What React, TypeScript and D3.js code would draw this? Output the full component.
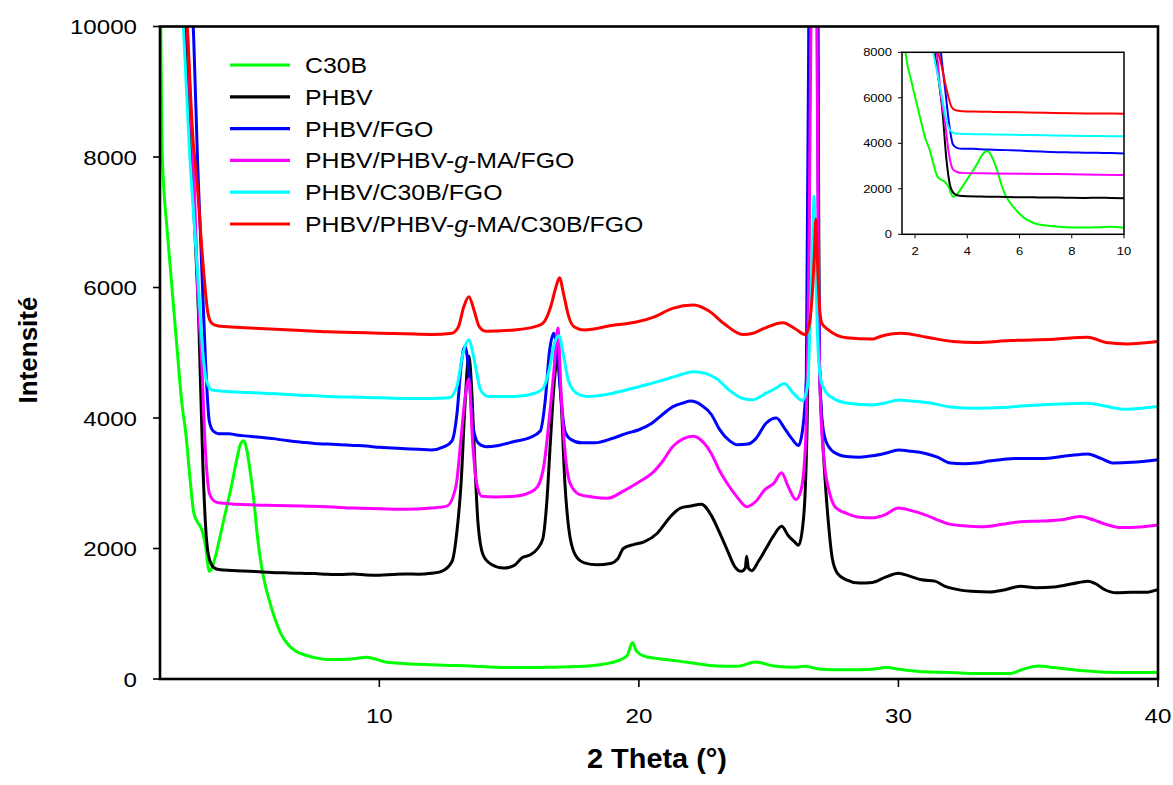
import React from "react";
import * as d3 from "d3";

type Pt = [number, number];

const seriesNames = [
  "C30B",
  "PHBV",
  "PHBV/FGO",
  "PHBV/PHBV-g-MA/FGO",
  "PHBV/C30B/FGO",
  "PHBV/PHBV-g-MA/C30B/FGO",
];
const seriesColors = ["#00FF00", "#000000", "#0000FF", "#FF00FF", "#00FFFF", "#FF0000"];

const c30b: Pt[] = [
  [1.55, 11500], [1.58, 10000], [1.62, 8300], [1.7, 7500], [1.8, 7000], [2.0, 6050], [2.2, 5100],
  [2.4, 4200], [2.55, 3750], [2.7, 3100], [2.85, 2550], [3.0, 2400], [3.15, 2300], [3.3, 2050],
  [3.45, 1650], [3.55, 1700], [3.7, 1900], [3.9, 2250], [4.1, 2600], [4.3, 2950], [4.5, 3350],
  [4.65, 3600], [4.78, 3650], [4.9, 3500], [5.0, 3250], [5.15, 2800], [5.3, 2200], [5.45, 1750],
  [5.6, 1450], [5.8, 1150], [6.0, 900], [6.2, 700], [6.5, 520], [6.8, 420], [7.2, 360], [7.6, 320],
  [8.0, 300], [8.5, 300], [9.0, 310], [9.5, 335], [9.8, 310], [10.2, 265], [10.8, 240], [11.5, 225],
  [12.5, 210], [13.5, 200], [14.5, 180], [15.5, 175], [16.5, 180], [17.5, 190], [18.5, 220],
  [19.2, 280], [19.55, 360], [19.75, 560], [19.9, 430], [20.2, 350], [20.6, 320], [21.2, 290],
  [22, 250], [23, 200], [23.8, 195], [24.5, 260], [25.2, 200], [26, 180], [26.4, 195], [27, 150],
  [28, 140], [29, 150], [29.5, 175], [30.2, 140], [31, 110], [32, 100], [33, 85], [34.3, 85],
  [34.8, 150], [35.4, 200], [36, 175], [37, 130], [38, 105], [39, 100], [40, 100],
];

const phbv: Pt[] = [
  [1.55, 25000], [2.4, 11000], [2.55, 9800], [2.75, 8000], [2.9, 6800], [3.05, 5400], [3.2, 3300],
  [3.35, 2100], [3.5, 1780], [3.7, 1690], [4.0, 1670], [4.5, 1660], [5, 1650], [5.5, 1640],
  [6, 1630], [6.5, 1625], [7, 1620], [7.5, 1615], [8, 1605], [8.5, 1600], [9, 1610], [9.5, 1595],
  [10, 1590], [10.5, 1600], [11, 1610], [11.5, 1605], [12, 1620], [12.4, 1650], [12.8, 1800],
  [13.0, 2300], [13.15, 3000], [13.3, 4200], [13.45, 4950], [13.55, 4500], [13.65, 3600],
  [13.8, 2400], [14.0, 1900], [14.3, 1760], [14.8, 1700], [15.2, 1740], [15.5, 1860], [15.8, 1900],
  [16.1, 2000], [16.3, 2150], [16.45, 2700], [16.6, 3700], [16.75, 4600], [16.88, 4950],
  [17.0, 4300], [17.15, 3000], [17.3, 2300], [17.55, 1900], [17.9, 1780], [18.4, 1750],
  [18.9, 1770], [19.2, 1850], [19.4, 2000], [19.8, 2060], [20.2, 2100], [20.7, 2230], [21.2, 2480],
  [21.6, 2620], [22.0, 2650], [22.4, 2680], [22.8, 2500], [23.1, 2250], [23.4, 1980], [23.7, 1720],
  [23.95, 1650], [24.1, 1700], [24.15, 1880], [24.22, 1700], [24.35, 1660], [24.6, 1800],
  [24.9, 2000], [25.2, 2200], [25.5, 2340], [25.75, 2200], [26.0, 2100], [26.15, 2050],
  [26.3, 2300], [26.42, 3000], [26.52, 5000], [26.6, 10500], [26.7, 20000], [26.82, 20000],
  [26.9, 10500], [26.95, 5000], [27.05, 3900], [27.15, 3200], [27.3, 2400], [27.45, 1850],
  [27.65, 1620], [28.0, 1520], [28.5, 1470], [29.0, 1480], [29.5, 1560], [30.0, 1620],
  [30.4, 1580], [30.9, 1520], [31.4, 1500], [31.8, 1420], [32.3, 1370], [33, 1340], [33.5, 1335],
  [34, 1360], [34.7, 1420], [35.3, 1400], [36, 1410], [36.7, 1460], [37.3, 1500], [37.6, 1460],
  [37.9, 1380], [38.4, 1320], [39, 1330], [39.5, 1330], [40, 1370],
];

const phbvFgo: Pt[] = [
  [1.55, 25000], [2.6, 11500], [2.85, 9800], [3.0, 7900], [3.15, 6400], [3.3, 4900], [3.45, 3950],
  [3.6, 3800], [3.8, 3760], [4.2, 3760], [4.5, 3740], [5, 3720], [5.5, 3700], [6, 3680],
  [6.5, 3650], [7, 3630], [7.5, 3610], [8, 3600], [8.5, 3590], [9, 3580], [9.5, 3570], [10, 3550],
  [10.5, 3540], [11, 3530], [11.5, 3520], [12, 3510], [12.5, 3560], [12.8, 3650], [13.0, 4100],
  [13.15, 4800], [13.3, 5100], [13.45, 4700], [13.6, 3900], [13.8, 3620], [14.1, 3560],
  [14.6, 3580], [15.2, 3640], [15.8, 3700], [16.2, 3800], [16.4, 4300], [16.55, 5000],
  [16.72, 5300], [16.85, 5000], [17.0, 4300], [17.15, 3800], [17.35, 3680], [17.8, 3620],
  [18.3, 3620], [19.0, 3690], [19.5, 3760], [20.0, 3820], [20.5, 3920], [20.9, 4050], [21.3, 4170],
  [21.7, 4230], [22.0, 4260], [22.4, 4200], [22.8, 4050], [23.1, 3830], [23.5, 3650], [23.8, 3590],
  [24.2, 3600], [24.5, 3680], [24.9, 3920], [25.3, 4000], [25.6, 3850], [25.9, 3680],
  [26.15, 3580], [26.3, 3800], [26.45, 4600], [26.55, 10500], [26.65, 20000], [26.78, 20000],
  [26.88, 9000], [26.95, 5000], [27.05, 4000], [27.2, 3650], [27.5, 3480], [28, 3410],
  [28.5, 3400], [29.0, 3420], [29.5, 3460], [30, 3510], [30.5, 3490], [31, 3460], [31.5, 3400],
  [32, 3310], [32.5, 3300], [33, 3310], [33.5, 3340], [34.5, 3380], [35.5, 3380], [36.5, 3420],
  [37.3, 3450], [37.8, 3380], [38.3, 3310], [39, 3320], [40, 3360],
];

const phbvMaFgo: Pt[] = [
  [1.55, 25000], [2.5, 11000], [2.7, 9000], [2.85, 7800], [3.0, 6000], [3.15, 4900], [3.3, 3500],
  [3.45, 2850], [3.6, 2740], [3.8, 2700], [4.5, 2680], [5, 2670], [6, 2660], [7, 2650], [8, 2640],
  [9, 2620], [10, 2610], [11, 2600], [12, 2620], [12.6, 2650], [12.95, 2950], [13.15, 3700],
  [13.3, 4300], [13.45, 4600], [13.6, 3600], [13.75, 3000], [13.95, 2800], [14.5, 2790],
  [15.2, 2800], [15.8, 2860], [16.1, 2950], [16.35, 3300], [16.55, 4000], [16.72, 4700],
  [16.88, 5380], [17.0, 4400], [17.15, 3500], [17.35, 3000], [17.7, 2830], [18.2, 2790],
  [18.8, 2770], [19.4, 2880], [20.0, 3020], [20.5, 3150], [20.9, 3330], [21.3, 3560], [21.7, 3680],
  [22.1, 3720], [22.5, 3620], [22.8, 3450], [23.1, 3200], [23.4, 3000], [23.8, 2780],
  [24.15, 2640], [24.5, 2720], [24.85, 2900], [25.2, 3000], [25.5, 3160], [25.75, 2950],
  [26.05, 2750], [26.25, 2900], [26.42, 3600], [26.55, 6500], [26.65, 11000], [26.75, 20000],
  [26.85, 11000], [26.92, 6000], [27.0, 4200], [27.15, 3300], [27.35, 2850], [27.6, 2620],
  [28, 2540], [28.5, 2480], [29, 2470], [29.5, 2520], [30, 2620], [30.5, 2580], [31, 2520],
  [31.5, 2440], [32, 2370], [32.5, 2350], [33.3, 2335], [34, 2370], [34.7, 2410], [35.5, 2420],
  [36.3, 2440], [37, 2490], [37.5, 2440], [38, 2370], [38.6, 2320], [39.3, 2330], [40, 2360],
];

const phbvC30bFgo: Pt[] = [
  [1.55, 25000], [2.3, 11000], [2.45, 10000], [2.7, 8000], [2.9, 6800], [3.05, 5900], [3.2, 5000],
  [3.35, 4560], [3.55, 4430], [4, 4410], [5, 4390], [6, 4370], [7, 4350], [8, 4330], [9, 4320],
  [10, 4310], [11, 4300], [12, 4300], [12.7, 4310], [13.0, 4500], [13.2, 4950], [13.45, 5200],
  [13.6, 5000], [13.75, 4700], [13.9, 4430], [14.2, 4330], [15.2, 4330], [16.0, 4380],
  [16.3, 4450], [16.55, 4750], [16.75, 5150], [16.92, 5260], [17.1, 4950], [17.3, 4550],
  [17.6, 4380], [18.0, 4330], [19.0, 4380], [19.8, 4460], [20.4, 4520], [21.0, 4590], [21.5, 4650],
  [22.1, 4710], [22.6, 4680], [23.0, 4600], [23.5, 4420], [24.0, 4300], [24.4, 4280], [24.9, 4380],
  [25.3, 4460], [25.6, 4530], [25.95, 4380], [26.3, 4270], [26.5, 4500], [26.6, 5500],
  [26.7, 6800], [26.75, 7400], [26.8, 6500], [26.88, 5300], [27.0, 4600], [27.2, 4400],
  [27.5, 4300], [28, 4230], [29, 4200], [29.5, 4230], [30, 4275], [30.5, 4260], [31.1, 4237],
  [32, 4170], [33, 4150], [34, 4160], [35, 4190], [36, 4210], [37.3, 4226], [38, 4180],
  [38.7, 4134], [39.4, 4150], [40, 4175],
];

const phbvMaC30bFgo: Pt[] = [
  [1.55, 25000], [2.4, 11000], [2.6, 10000], [2.8, 8400], [3.0, 7500], [3.2, 6400], [3.4, 5600],
  [3.55, 5450], [3.8, 5410], [4.5, 5390], [5, 5380], [6, 5360], [7, 5340], [8, 5320], [9, 5310],
  [10, 5300], [11, 5290], [12, 5280], [12.8, 5300], [13.05, 5400], [13.25, 5700], [13.45, 5860],
  [13.65, 5650], [13.85, 5400], [14.1, 5330], [15.2, 5350], [16.0, 5400], [16.3, 5450],
  [16.6, 5700], [16.8, 6000], [16.94, 6150], [17.1, 5900], [17.3, 5550], [17.5, 5400],
  [17.9, 5350], [19.0, 5420], [19.9, 5470], [20.6, 5550], [21.3, 5680], [22.1, 5730], [22.7, 5640],
  [23.3, 5440], [24.0, 5280], [24.4, 5300], [24.8, 5370], [25.55, 5460], [26.05, 5360],
  [26.4, 5280], [26.55, 5400], [26.68, 5900], [26.76, 6500], [26.82, 7050], [26.88, 6400],
  [26.96, 5700], [27.05, 5450], [27.3, 5350], [28, 5230], [29, 5210], [29.3, 5250], [30.1, 5300],
  [31.1, 5238], [32.1, 5172], [33, 5156], [34.3, 5187], [36, 5207], [37.3, 5238], [38, 5156],
  [38.8, 5136], [40, 5172],
];

const allSeries: Pt[][] = [c30b, phbv, phbvFgo, phbvMaFgo, phbvC30bFgo, phbvMaC30bFgo];

const mainYTicks = [0, 2000, 4000, 6000, 8000, 10000];
const mainXTicks = [10, 20, 30, 40];
const insetYTicks = [0, 2000, 4000, 6000, 8000];
const insetXTicks = [2, 4, 6, 8, 10];

const FONT = "'Liberation Sans', Arial, Helvetica, sans-serif";

export default function App() {
  // main plot geometry
  const L = 160, R = 1158, T = 26.5, B = 679;
  const x = d3.scaleLinear().domain([1.55, 40]).range([L, R]);
  const y = d3.scaleLinear().domain([0, 10000]).range([B, T]);
  const line = d3
    .line<Pt>()
    .x((d) => x(d[0]))
    .y((d) => y(d[1]))
    .curve(d3.curveMonotoneX);

  // inset geometry
  const iL = 902, iR = 1124, iT = 52.3, iB = 234.3;
  const ix = d3.scaleLinear().domain([1.5, 10]).range([iL, iR]);
  const iy = d3.scaleLinear().domain([0, 8000]).range([iB, iT]);
  const iline = d3
    .line<Pt>()
    .x((d) => ix(d[0]))
    .y((d) => iy(d[1]))
    .curve(d3.curveMonotoneX);

  const legendY0 = 65;
  const legendDy = 31.8;

  return (
    <svg
      width={1173}
      height={785}
      style={{ position: "absolute", left: 0, top: 0, background: "#fff" }}
      fontFamily={FONT}
    >
      <defs>
        <clipPath id="mainClip">
          <rect x={L} y={T} width={R - L} height={B - T} />
        </clipPath>
        <clipPath id="insetClip">
          <rect x={iL} y={iT} width={iR - iL} height={iB - iT} />
        </clipPath>
      </defs>
      <rect x={0} y={0} width={1173} height={785} fill="#fff" />

      {/* series */}
      <g clipPath="url(#mainClip)">
        {allSeries.map((s, i) => (
          <path
            key={i}
            d={line(s) || ""}
            fill="none"
            stroke={seriesColors[i]}
            strokeWidth={3}
            strokeLinejoin="round"
          />
        ))}
      </g>

      {/* frame */}
      <rect x={L} y={T} width={R - L} height={B - T} fill="none" stroke="#000" strokeWidth={2.6} />

      {/* y ticks */}
      {mainYTicks.map((t) => (
        <g key={"y" + t}>
          <line x1={L - 7} x2={L} y1={y(t)} y2={y(t)} stroke="#000" strokeWidth={1.6} />
          <text
            transform={`translate(${L - 23},${y(t) + 7.5}) scale(1.15,1)`}
            textAnchor="end"
            fontSize={21}
            fill="#000"
          >
            {t}
          </text>
        </g>
      ))}

      {/* x ticks */}
      {mainXTicks.map((t) => (
        <g key={"x" + t}>
          <line x1={x(t)} x2={x(t)} y1={B} y2={B + 8} stroke="#000" strokeWidth={1.6} />
          <text
            transform={`translate(${x(t)},${723}) scale(1.15,1)`}
            textAnchor="middle"
            fontSize={21}
            fill="#000"
          >
            {t}
          </text>
        </g>
      ))}

      {/* axis titles */}
      <text
        transform={`translate(657,768) scale(1.07,1)`}
        textAnchor="middle"
        fontSize={27}
        fontWeight="bold"
        fill="#000"
      >
        2 Theta (°)
      </text>
      <text
        transform={`translate(37,350) rotate(-90)`}
        textAnchor="middle"
        fontSize={26}
        fontWeight="bold"
        fill="#000"
      >
        Intensité
      </text>

      {/* legend */}
      {seriesNames.map((name, i) => {
        const ly = legendY0 + i * legendDy;
        const parts = name.split("-g-");
        return (
          <g key={"l" + i}>
            <line x1={230} x2={290} y1={ly} y2={ly} stroke={seriesColors[i]} strokeWidth={3.2} />
            <text
              transform={`translate(305,${ly + 8}) scale(1.13,1)`}
              fontSize={22}
              fill="#000"
            >
              {parts.length > 1 ? (
                <>
                  {parts[0]}-<tspan fontStyle="italic">g</tspan>-{parts[1]}
                </>
              ) : (
                name
              )}
            </text>
          </g>
        );
      })}

      {/* inset */}
      <rect x={iL} y={iT} width={iR - iL} height={iB - iT} fill="#fff" />
      <g clipPath="url(#insetClip)">
        {allSeries.map((s, i) => (
          <path
            key={"i" + i}
            d={iline(s.filter((p) => p[0] <= 10.5)) || ""}
            fill="none"
            stroke={seriesColors[i]}
            strokeWidth={2}
            strokeLinejoin="round"
          />
        ))}
      </g>
      <rect x={iL} y={iT} width={iR - iL} height={iB - iT} fill="none" stroke="#000" strokeWidth={1.5} />
      {insetYTicks.map((t) => (
        <g key={"iy" + t}>
          <line x1={iL - 4} x2={iL} y1={iy(t)} y2={iy(t)} stroke="#000" strokeWidth={1} />
          <text
            transform={`translate(${iL - 10},${iy(t) + 4}) scale(1.18,1)`}
            textAnchor="end"
            fontSize={11}
            fill="#000"
          >
            {t}
          </text>
        </g>
      ))}
      {insetXTicks.map((t) => (
        <g key={"ix" + t}>
          <line x1={ix(t)} x2={ix(t)} y1={iB} y2={iB + 4} stroke="#000" strokeWidth={1} />
          <text
            transform={`translate(${ix(t)},${255}) scale(1.18,1)`}
            textAnchor="middle"
            fontSize={11}
            fill="#000"
          >
            {t}
          </text>
        </g>
      ))}
    </svg>
  );
}
